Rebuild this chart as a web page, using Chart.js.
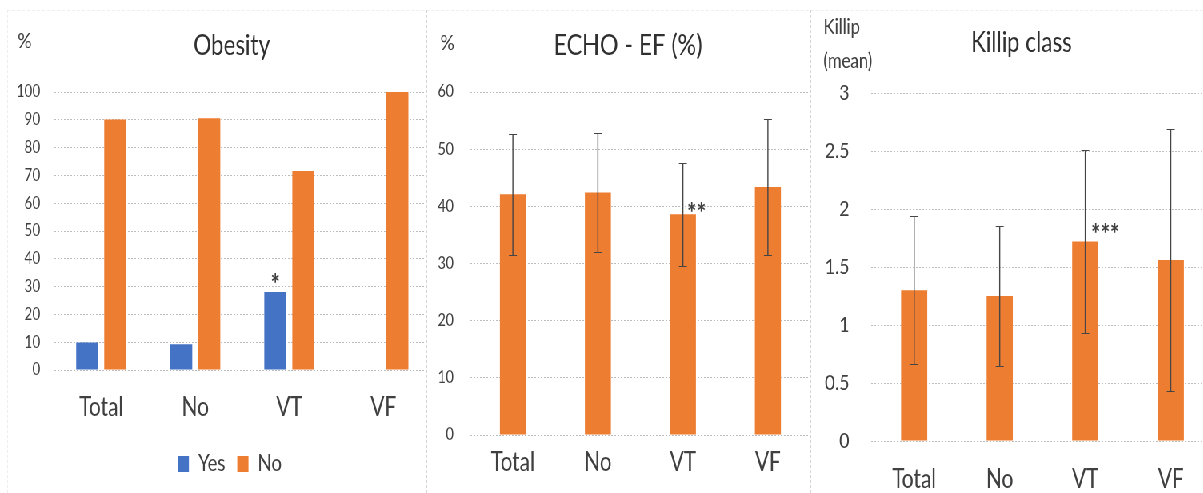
<!DOCTYPE html>
<html lang="en">
<head>
<meta charset="UTF-8">
<title>Obesity, ECHO - EF and Killip class</title>
<script src="https://cdn.jsdelivr.net/npm/chart.js"></script>
<style>
  html, body { margin: 0; padding: 0; background: #fff; }
  body { width: 1203px; height: 493px; overflow: hidden; position: relative; }
  /* the source figure is squeezed horizontally, so draw wide and squeeze */
  #squeeze { position: absolute; left: 0; top: 0; width: 1504px; height: 493px; transform: scaleX(0.8); transform-origin: 0 0; }
  .panel { position: absolute; top: 0; height: 493px; overflow: hidden; }
  .sep { position: absolute; top: 10px; bottom: 0; border-left: 1px dashed #d6d6d6; }
</style>
</head>
<body>
<div id="squeeze">
  <div class="panel" style="left:8.75px;width:523.75px"><canvas id="obesity" width="529" height="493"></canvas></div>
  <div class="panel" style="left:532.5px;width:480px"><canvas id="echo" width="480" height="493"></canvas></div>
  <div class="panel" style="left:1012.5px;width:491.25px"><canvas id="killip" width="504" height="493"></canvas></div>
</div>
<div class="sep" style="left:7px;border-left-color:#eeeeee"></div>
<div class="sep" style="left:7px;right:0;bottom:auto;border-left:none;border-top:1px dashed #eeeeee"></div>
<div class="sep" style="left:426px"></div>
<div class="sep" style="left:810px"></div>

<script>
// data
const categories = ['Total', 'No', 'VT', 'VF'];

const obesityYes = [9.9, 9.3, 28.1, 0];
const obesityNo = [90.1, 90.6, 71.6, 100];
const obesityMarks = [['', '', '*', ''], ['', '', '', '']];

const efMean = [42.1, 42.4, 38.6, 43.4];
const efSd = [10.6, 10.45, 9.05, 11.9];
const efMarks = ['', '', '**', ''];

const killipMean = [1.30, 1.25, 1.72, 1.56];
const killipSd = [0.64, 0.60, 0.79, 1.13];
const killipMarks = ['', '', '***', ''];

const BLUE = '#4472C4';
const ORANGE = '#ED7D31';
const TEXT = '#404040';
const FONT = 'Lato, "Open Sans", sans-serif';

// error bars (mean +/- sd) on top of the bars
const errorBars = {
    id: 'errorBars',
    afterDatasetsDraw(chart, args, opts) {
        if (!opts.sd) return;
        const ctx = chart.ctx;
        const y = chart.scales.y;
        const values = chart.data.datasets[0].data;
        ctx.save();
        ctx.strokeStyle = '#454545';
        chart.getDatasetMeta(0).data.forEach((bar, i) => {
            const top = Math.round(y.getPixelForValue(values[i] + opts.sd[i])) + 0.5;
            const bot = Math.round(y.getPixelForValue(values[i] - opts.sd[i])) + 0.5;
            ctx.lineWidth = 1.4;
            ctx.beginPath();
            ctx.moveTo(bar.x, top); ctx.lineTo(bar.x, bot);
            ctx.stroke();
            ctx.lineWidth = 1;
            ctx.beginPath();
            ctx.moveTo(bar.x - 5, top); ctx.lineTo(bar.x + 5, top);
            ctx.moveTo(bar.x - 5, bot); ctx.lineTo(bar.x + 5, bot);
            ctx.stroke();
        });
        ctx.restore();
    }
};

// title, unit label and significance stars
const panelText = {
    id: 'panelText',
    afterLayout(chart, args, o) {
        // legend centred a little right of the canvas middle, as in the source
        if (o.legendShift) chart.legend.left += o.legendShift;
    },
    afterDraw(chart, args, o) {
        const ctx = chart.ctx;
        ctx.save();
        ctx.fillStyle = '#303030';
        ctx.textBaseline = 'middle';
        ctx.textAlign = 'center';
        ctx.font = `${o.titleSize}px ${FONT}`;
        ctx.fillText(o.title, o.titleX, o.titleY);
        ctx.fillStyle = TEXT;
        ctx.textAlign = o.unitAlign || 'center';
        ctx.font = `${o.unitSize}px ${FONT}`;
        o.unit.forEach((line, i) => ctx.fillText(line, o.unitX, o.unitY + i * o.unitGap));
        ctx.textAlign = 'center';
        ctx.font = `bold 28px ${FONT}`;
        o.marks.forEach((marks, d) => {
            chart.getDatasetMeta(d).data.forEach((bar, i) => {
                if (marks[i]) ctx.fillText(marks[i], bar.x + o.markDx, bar.y + o.markDy);
            });
        });
        ctx.restore();
    }
};

function scales(yMax, step, tickSize, yWidth, yPad, bottom, bottomPad, xPad) {
    return {
        x: {
            grid: { display: false, drawTicks: false },
            border: { display: false },
            ticks: { color: TEXT, padding: xPad, font: { family: FONT, size: 26 } },
            afterFit: s => {
                const lg = s.chart.legend;
                const lh = lg && lg.options.display ? lg.height : 0;
                s.height = s.chart.height - bottom - bottomPad - lh;
            }
        },
        y: {
            min: 0, max: yMax,
            grid: { color: '#bdbdbd', drawTicks: false },
            border: { display: false, dash: [2, 2] },
            ticks: { stepSize: step, color: TEXT, padding: yPad, font: { family: FONT, size: tickSize }, callback: v => String(v) },
            afterFit: s => { s.width = yWidth; }
        }
    };
}

function build() {
    Chart.defaults.font.family = FONT;

    new Chart(document.getElementById('obesity'), {
        type: 'bar',
        data: {
            labels: categories,
            datasets: [
                { label: 'Yes', data: obesityYes, backgroundColor: BLUE },
                { label: 'No', data: obesityNo, backgroundColor: ORANGE }
            ]
        },
        options: {
            responsive: false,
            animation: false,
            events: [],
            datasets: { bar: { barPercentage: 0.786, categoryPercentage: 0.596 } },
            layout: { padding: { top: 92, left: 0, right: 0, bottom: 7.5 } },
            scales: scales(100, 10, 17, 58.75, 17.5, 370, 7.5, 22),
            plugins: {
                legend: {
                    position: 'bottom',
                    labels: { color: TEXT, boxWidth: 14, boxHeight: 16, padding: 15, font: { family: FONT, size: 23 } }
                },
                tooltip: { enabled: false },
                panelText: {
                    title: 'Obesity', titleX: 280.6, titleY: 46, titleSize: 28,
                    unit: ['%'], unitX: 21.9, unitY: 41, unitSize: 22, unitGap: 0,
                    marks: obesityMarks, markDx: 0, markDy: -6.5, legendShift: 27.5
                }
            }
        },
        plugins: [panelText]
    });

    new Chart(document.getElementById('echo'), {
        type: 'bar',
        data: {
            labels: categories,
            datasets: [{ label: 'ECHO - EF (%)', data: efMean, backgroundColor: ORANGE }]
        },
        options: {
            responsive: false,
            animation: false,
            events: [],
            datasets: { bar: { barPercentage: 1, categoryPercentage: 0.306 } },
            layout: { padding: { top: 92, left: 0, right: 0, bottom: 0 } },
            scales: scales(60, 10, 17, 55, 21, 435, 0, 12),
            plugins: {
                legend: { display: false },
                tooltip: { enabled: false },
                errorBars: { sd: efSd },
                panelText: {
                    title: 'ECHO - EF (%)', titleX: 251.9, titleY: 46, titleSize: 29,
                    unit: ['%'], unitX: 26.25, unitY: 43, unitSize: 22, unitGap: 0,
                    marks: [efMarks], markDx: 17, markDy: -0.5
                }
            }
        },
        plugins: [errorBars, panelText]
    });

    new Chart(document.getElementById('killip'), {
        type: 'bar',
        data: {
            labels: categories,
            datasets: [{ label: 'Killip class', data: killipMean, backgroundColor: ORANGE }]
        },
        options: {
            responsive: false,
            animation: false,
            events: [],
            datasets: { bar: { barPercentage: 1, categoryPercentage: 0.306 } },
            layout: { padding: { top: 93, left: 0, right: 0, bottom: 0 } },
            scales: scales(3, 0.5, 22, 76.25, 27.5, 441, 0, 23),
            plugins: {
                legend: { display: false },
                tooltip: { enabled: false },
                errorBars: { sd: killipSd },
                panelText: {
                    title: 'Killip class', titleX: 263.75, titleY: 43, titleSize: 28,
                    unit: ['Killip', '(mean)'], unitX: 16.25, unitY: 27, unitSize: 21, unitGap: 34, unitAlign: 'left',
                    marks: [killipMarks], markDx: 25, markDy: -6.5
                }
            }
        },
        plugins: [errorBars, panelText]
    });
}

document.fonts.load('26px Lato').then(build, build);
</script>
</body>
</html>
